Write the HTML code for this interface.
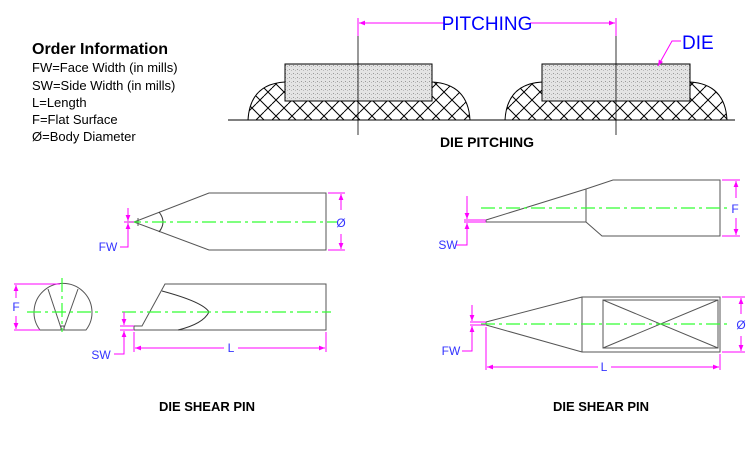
<!DOCTYPE html>
<html><head><style>body{margin:0;background:#fff}svg{display:block}</style></head><body>
<svg width="750" height="450" viewBox="0 0 750 450" xmlns="http://www.w3.org/2000/svg" font-family="Liberation Sans, sans-serif">
<defs>
<pattern id="hb" width="16" height="16" patternUnits="userSpaceOnUse">
<rect width="16" height="16" fill="#fff"/>
<path d="M0 8L8 0M8 16L16 8M4 4L12 12M12 -4L20 4M-4 12L4 20M0 0L4 4M12 12L16 16" stroke="#000" stroke-width="1" fill="none"/>
</pattern>
<pattern id="st" width="4" height="4" patternUnits="userSpaceOnUse">
<rect width="4" height="4" fill="#e4e4e4"/><rect x="1" y="1" width="1" height="1" fill="#999"/><rect x="3" y="2" width="1" height="1" fill="#bbb"/>
</pattern>
<marker id="a" viewBox="0 0 10 10" refX="10" refY="5" markerWidth="10" markerHeight="6" orient="auto-start-reverse"><path d="M0 1L10 5L0 9z" fill="#f0f"/></marker>
</defs>
<g font-size="13" fill="#000">
<text x="32" y="54" font-weight="bold" font-size="16">Order Information</text>
<text x="32" y="72">FW=Face Width (in mills)</text>
<text x="32" y="90">SW=Side Width (in mills)</text>
<text x="32" y="107">L=Length</text>
<text x="32" y="124">F=Flat Surface</text>
<text x="32" y="141">Ø=Body Diameter</text>
</g>
<path d="M248 120Q250 84 285 82L432 82Q468 84 470 120Z" fill="url(#hb)" stroke="#000"/>
<path d="M505 120Q507 84 542 82L690 82Q725 84 727 120Z" fill="url(#hb)" stroke="#000"/>
<rect x="285" y="64" width="147" height="37" fill="url(#st)" stroke="#000"/>
<rect x="542" y="64" width="148" height="37" fill="url(#st)" stroke="#000"/>
<line x1="228" y1="120" x2="735" y2="120" stroke="#000"/>
<line x1="358" y1="18" x2="358" y2="135" stroke="#000" stroke-width=".8"/>
<line x1="616" y1="18" x2="616" y2="135" stroke="#000" stroke-width=".8"/>
<line x1="358" y1="18" x2="358" y2="36" stroke="#f0f"/><line x1="616" y1="18" x2="616" y2="36" stroke="#f0f"/>
<line x1="359" y1="23" x2="445" y2="23" stroke="#f0f" marker-start="url(#a)"/>
<line x1="530" y1="23" x2="615" y2="23" stroke="#f0f" marker-end="url(#a)"/>
<text x="487" y="30" font-size="19" fill="#00f" text-anchor="middle">PITCHING</text>
<path d="M681 41L672 41L658 66" stroke="#f0f" fill="none" marker-end="url(#a)"/>
<text x="682" y="49" font-size="19" fill="#00f">DIE</text>
<text x="487" y="147" font-size="14" font-weight="bold" text-anchor="middle">DIE PITCHING</text>
<g stroke="#555" fill="none" stroke-width="1">
<path d="M209 193L326 193L326 250L209 250L134 222Z"/>
<path d="M159 212Q167 222 159 232" stroke="#333"/>
<path d="M138 218L138 226"/>
<path d="M40 330L86 330A29 29 0 1 0 40 330Z"/>
<path d="M48 289L61 328M78 289L64 328M61 326h3v4h-3z"/>
<path d="M165 284L326 284L326 330L134 330L134 326L142 326Z"/>
<path d="M162 291Q203 302 209 312Q203 324 178 330" stroke="#333"/>
<path d="M486 220L586 189L613 180L720 180L720 236L602 236L586 222L486 222Z M586 189L586 222"/>
<path d="M486 322L582 297L720 297L720 352L582 352L486 325Z M582 297V352"/>
<rect x="603" y="300" width="115" height="48"/>
<path d="M603 300L718 348M603 348L718 300"/>
</g>
<g stroke="#3f3" stroke-width="1.2" stroke-dasharray="14 4 3 4" fill="none">
<line x1="127" y1="222" x2="338" y2="222"/>
<line x1="27" y1="312" x2="98" y2="312"/>
<line x1="62" y1="278" x2="62" y2="332"/>
<line x1="122" y1="312" x2="331" y2="312"/>
<line x1="481" y1="208" x2="727" y2="208"/>
<line x1="481" y1="324" x2="727" y2="324"/>
</g>
<g stroke="#f0f" stroke-width="1" fill="none">
<path d="M328 193H345M328 250H345"/>
<line x1="341" y1="210" x2="341" y2="194" marker-end="url(#a)"/><line x1="341" y1="234" x2="341" y2="249" marker-end="url(#a)"/>
<path d="M124 222H134"/>
<line x1="128" y1="208" x2="128" y2="221" marker-end="url(#a)"/><path d="M128 223V247H120"/><line x1="128" y1="236" x2="128" y2="223" marker-end="url(#a)"/>
<path d="M14 284H60M14 330H40"/>
<line x1="16" y1="298" x2="16" y2="285" marker-end="url(#a)"/><line x1="16" y1="316" x2="16" y2="329" marker-end="url(#a)"/>
<path d="M120 326H134M120 330H134"/>
<line x1="124" y1="312" x2="124" y2="325" marker-end="url(#a)"/><line x1="124" y1="344" x2="124" y2="331" marker-end="url(#a)"/><path d="M124 344V354H114"/>
<path d="M134 332V352M326 332V352"/>
<line x1="224" y1="348" x2="135" y2="348" marker-end="url(#a)"/><line x1="238" y1="348" x2="325" y2="348" marker-end="url(#a)"/>
<path d="M722 180H740M722 236H740"/>
<line x1="736" y1="198" x2="736" y2="181" marker-end="url(#a)"/><line x1="736" y1="218" x2="736" y2="235" marker-end="url(#a)"/>
<path d="M464 220H486M464 222H486"/>
<line x1="467" y1="196" x2="467" y2="219" marker-end="url(#a)"/><line x1="467" y1="236" x2="467" y2="223" marker-end="url(#a)"/><path d="M467 236V245H456"/>
<path d="M722 297H745M722 352H745"/>
<line x1="741" y1="314" x2="741" y2="298" marker-end="url(#a)"/><line x1="741" y1="336" x2="741" y2="351" marker-end="url(#a)"/>
<path d="M470 322H486M470 325H486"/>
<line x1="472" y1="305" x2="472" y2="321" marker-end="url(#a)"/><line x1="472" y1="340" x2="472" y2="326" marker-end="url(#a)"/><path d="M472 340V351H462"/>
<path d="M486 327V370M720 354V370"/>
<line x1="598" y1="367" x2="487" y2="367" marker-end="url(#a)"/><line x1="611" y1="367" x2="719" y2="367" marker-end="url(#a)"/>
</g>
<g fill="#33f" font-size="12" text-anchor="middle">
<text x="341" y="227">Ø</text>
<text x="108" y="251">FW</text>
<text x="16" y="311">F</text>
<text x="101" y="359">SW</text>
<text x="231" y="352">L</text>
<text x="735" y="213">F</text>
<text x="448" y="249">SW</text>
<text x="741" y="329">Ø</text>
<text x="451" y="355">FW</text>
<text x="604" y="371">L</text>
</g>
<text x="207" y="411" font-size="13" font-weight="bold" text-anchor="middle">DIE SHEAR PIN</text>
<text x="601" y="411" font-size="13" font-weight="bold" text-anchor="middle">DIE SHEAR PIN</text>
</svg>
</body></html>
